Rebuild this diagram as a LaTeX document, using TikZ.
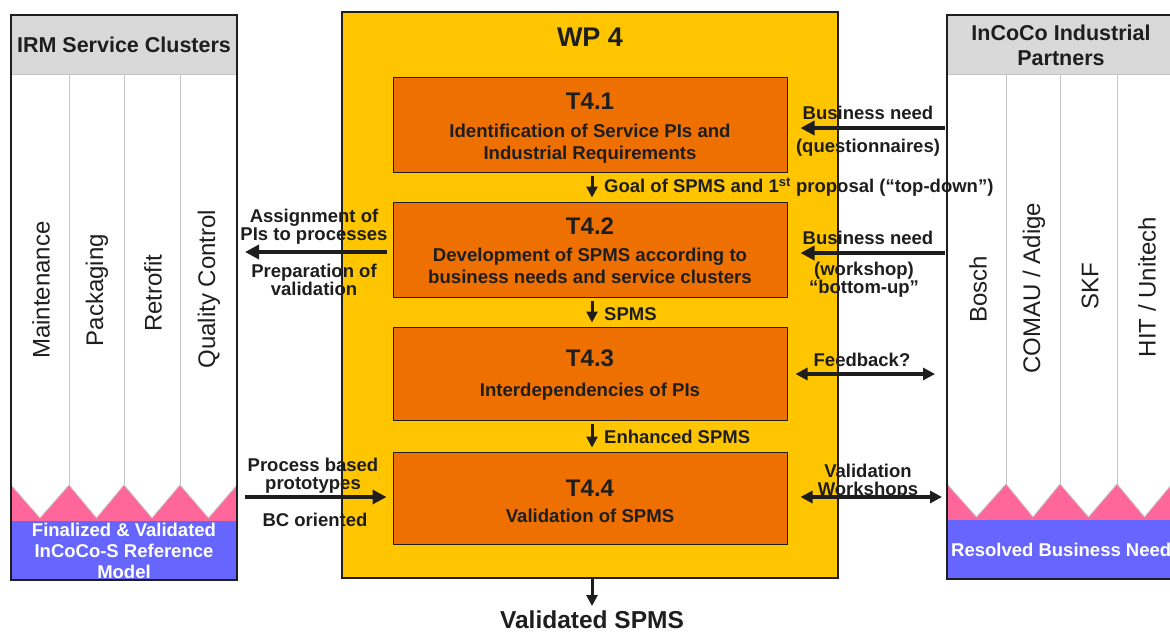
\documentclass[tikz,border=0pt]{standalone}
\usepackage{fontspec}
\setmainfont{Liberation Sans}
\usetikzlibrary{arrows.meta}
\definecolor{wpyellow}{HTML}{FFC600}
\definecolor{torange}{HTML}{EE7000}
\definecolor{zpink}{HTML}{FF6699}
\definecolor{zblue}{HTML}{6666FF}
\definecolor{hgray}{HTML}{D9D9D9}
\definecolor{sepgray}{HTML}{C4C4C4}
\definecolor{ink}{HTML}{1E1E1E}
\newcommand{\myttl}{\fontsize{24}{24}\selectfont}
\begin{document}
\begin{tikzpicture}[x=1pt,y=-1pt,
  lbl/.style={font=\bfseries\fontsize{18.5}{18}\selectfont, text=ink, align=center, inner sep=0pt},
  tbox/.style={draw=ink, line width=1pt, fill=torange, minimum width=394pt, inner sep=0pt},
  ttext/.style={align=center, text=ink, inner sep=0pt, font=\bfseries\fontsize{18.6}{22}\selectfont},
  darr/.style={draw=ink, line width=3pt, -{Triangle[length=11pt,width=11pt]}},
  harr/.style={draw=ink, line width=4.5pt, -{Triangle[length=14pt,width=14pt]}},
  dbl/.style={draw=ink, line width=4pt, {Triangle[length=12pt,width=12pt]}-{Triangle[length=12pt,width=12pt]}},
  coltext/.style={rotate=90, font=\fontsize{24}{24}\selectfont, text=ink, inner sep=0pt},
  panel/.style={line width=1.2pt, minimum width=226pt, minimum height=565pt, inner sep=0pt},
  whitetext/.style={text=white, font=\bfseries\fontsize{18.5}{21}\selectfont, align=center, inner sep=0pt},
  headtext/.style={text=ink, font=\bfseries\fontsize{21.5}{25}\selectfont, align=center, inner sep=0pt},
]
\useasboundingbox (0,0) rectangle (1170,632);
\clip (0,0) rectangle (1170,632);

% ---------------- left panel ----------------
\node[panel, fill=white] (lp) at (124,297.5) {};
\fill[hgray] (11,15) rectangle (237,74);
\draw[sepgray, line width=0.8pt] (11,74) -- (237,74);
\foreach \xx in {69,124,180} { \draw[sepgray, line width=0.8pt] (\xx,74) -- (\xx,485); }
\fill[zpink] (11,485) rectangle (237,521);
\foreach \a/\b in {11/69,69/124,124/180,180/237} {
  \filldraw[fill=white, draw=sepgray, line width=0.8pt] (\a,485) -- ({(\a+\b)/2},518) -- (\b,485);
}
\fill[zblue] (11,521) rectangle (237,580);
\node[headtext] (lph) at (124,45) {IRM Service Clusters};
\node[coltext] (c1) at (41,290) {Maintenance};
\node[coltext] (c2) at (97,290) {Packaging};
\node[coltext] (c3) at (153,293) {Retrofit};
\node[coltext] (c4) at (209,289) {Quality Control};
\node[whitetext] (lpb) at (124,551) {Finalized \& Validated\\InCoCo-S Reference\\Model};
\draw[ink, line width=1.2pt] (11,15) rectangle (237,580);

% ---------------- right panel ----------------
\node[panel, fill=white, minimum width=225pt, minimum height=564pt] (rp) at (1059.5,297) {};
\fill[hgray] (947,15) rectangle (1172,74);
\draw[sepgray, line width=0.8pt] (947,74) -- (1172,74);
\foreach \xx in {1006,1060,1117} { \draw[sepgray, line width=0.8pt] (\xx,74) -- (\xx,484); }
\fill[zpink] (947,484) rectangle (1172,520);
\foreach \a/\b in {947/1006,1006/1060,1060/1117,1117/1172} {
  \filldraw[fill=white, draw=sepgray, line width=0.8pt] (\a,484) -- ({(\a+\b)/2},517) -- (\b,484);
}
\fill[zblue] (947,520) rectangle (1172,579);
\node[headtext] (rph) at (1061,45) {InCoCo Industrial\\Partners};
\node[coltext] (p1) at (978,289) {Bosch};
\node[coltext] (p2) at (1034,288) {COMAU / Adige};
\node[coltext] (p3) at (1090,286) {SKF};
\node[coltext] (p4) at (1147,287) {HIT / Unitech};
\node[whitetext, anchor=west] (rpb) at (951,550) {Resolved Business Need};
\draw[ink, line width=1.2pt] (947,15) rectangle (1172,579);

% ---------------- WP 4 ----------------
\node[draw=ink, line width=1.2pt, fill=wpyellow, minimum width=496pt, minimum height=566pt, inner sep=0pt] (wp) at (590,295) {};
\node[font=\bfseries\fontsize{27}{27}\selectfont, text=ink, inner sep=0pt] (wpt) at (590,37) {WP 4};

\node[tbox, minimum height=95pt] (t1) at (590,124.5) {};
\node[tbox, minimum height=95pt] (t2) at (590,249.5) {};
\node[tbox, minimum height=93pt] (t3) at (590,373.5) {};
\node[tbox, minimum height=92pt] (t4) at (590,498) {};
\node[ttext] (t1x) at ([yshift=-3.5pt]t1.center) {{\myttl T4.1}\\[6pt]Identification of Service PIs and\\Industrial Requirements};
\node[ttext] (t2x) at ([yshift=-1.5pt]t2.center) {{\myttl T4.2}\\[5pt]Development of SPMS according to\\business needs and service clusters};
\node[ttext] (t3x) at ([yshift=-2pt]t3.center) {{\myttl T4.3}\\[8pt]Interdependencies of PIs};
\node[ttext] (t4x) at ([yshift=-3pt]t4.center) {{\myttl T4.4}\\[4pt]Validation of SPMS};

% vertical flow
\draw[darr, shorten <=3pt, shorten >=4pt] ([xshift=2pt]t1.south) -- ([xshift=2pt]t2.north);
\draw[darr, shorten <=3pt, shorten >=4pt] ([xshift=2pt]t2.south) -- ([xshift=2pt]t3.north);
\draw[darr, shorten <=3pt, shorten >=4pt] ([xshift=2pt]t3.south) -- ([xshift=2pt]t4.north);
\coordinate (vend) at (592,606);
\draw[darr] ([xshift=2pt]wp.south) -- (vend);

\node[lbl, anchor=west] (g1) at (604,187) {Goal of SPMS and 1\textsuperscript{st} proposal (“top-down”)};
\node[lbl, anchor=west] (g2) at (604,314) {SPMS};
\node[lbl, anchor=west] (g3) at (604,437) {Enhanced SPMS};
\node[font=\bfseries\fontsize{24.5}{25}\selectfont, text=ink, inner sep=0pt] (vs) at (592,620) {Validated SPMS};

% right side connectors
\coordinate (r1) at (945,128);
\coordinate (r2) at (945,253);
\coordinate (r3) at (935,374);
\coordinate (r4) at (942,497);
\draw[harr, shorten >=13pt] (r1) -- (t1.east |- r1);
\draw[harr, shorten >=13pt] (r2) -- (t2.east |- r2);
\draw[dbl, shorten >=8pt] (r3) -- (t3.east |- r3);
\draw[dbl, shorten >=13pt] (r4) -- (t4.east |- r4);
\node[lbl] (bn1) at (868,113) {Business need};
\node[lbl] (q1) at (868,148) {(questionnaires)};
\node[lbl] (bn2) at (868,238) {Business need};
\node[lbl] (q2) at (864,280) {(workshop)\\“bottom-up”};
\node[lbl] (fb) at (862,360) {Feedback?};
\node[lbl] (vw) at (868,481.5) {Validation\\Workshops};

% left side connectors
\coordinate (l1) at (245,252);
\coordinate (l2) at (245,497);
\draw[harr, shorten <=6pt] (t2.west |- l1) -- (l1);
\draw[harr, shorten >=6pt] (l2) -- (t4.west |- l2);
\node[lbl] (a1) at (314,226.5) {Assignment of\\PIs to processes};
\node[lbl] (a2) at (314,280) {Preparation of\\validation};
\node[lbl] (pb) at (313,475.5) {Process based\\prototypes};
\node[lbl] (bc) at (315,519.5) {BC oriented};
\end{tikzpicture}
\end{document}
